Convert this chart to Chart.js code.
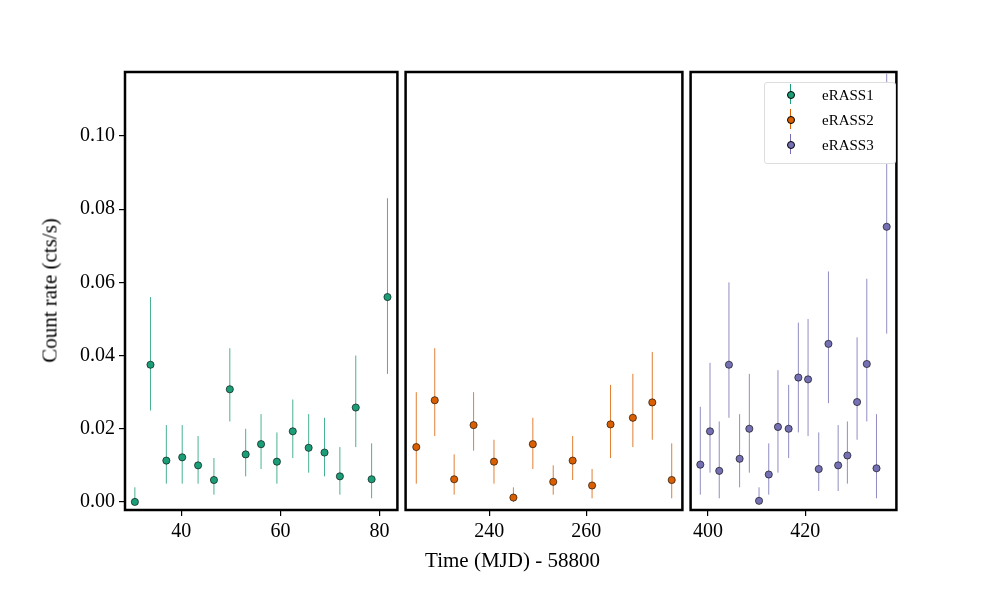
<!DOCTYPE html>
<html><head><meta charset="utf-8">
<script src="https://cdn.jsdelivr.net/npm/chart.js@4/dist/chart.umd.min.js"></script>
<style>
body{margin:0;width:1000px;height:600px;background:#fff;position:relative;overflow:hidden;font-family:"Liberation Serif",serif}
canvas{position:absolute;top:0}
#xt{position:absolute;top:548px;left:0;width:1025px;text-align:center;font-size:21px;z-index:5}
#yt{position:absolute;left:-50px;top:278px;width:200px;text-align:center;font-size:21px;transform:rotate(-90deg);z-index:5}
#lg{position:absolute;left:764px;top:82px;width:130px;height:80px;border:1px solid #ddd;border-radius:3px;background:#fff;font-size:15px;z-index:5}
#lg div{position:relative;height:25px;line-height:25px;padding-left:57px}
#lg span{position:absolute;left:22px;top:8px;width:6px;height:6px;border-radius:50%;border:0.6px solid #000}
#lg i{position:absolute;left:25px;top:1px;width:1px;height:20px}
</style></head><body>
<div id="xt">Time (MJD) - 58800</div>
<div id="yt">Count rate (cts/s)</div>
<div id="lg"></div>
<script>
const names=["eRASS1","eRASS2","eRASS3"];
const colors=["#1b9e77","#d95f02","#7570b3"];
const x1=[30.65,33.8,37.0,40.2,43.4,46.6,49.8,53.0,56.1,59.3,62.5,65.7,68.9,72.0,75.2,78.4,81.6];
const y1=[0.000,0.0375,0.0113,0.0122,0.0100,0.0060,0.0308,0.0130,0.0158,0.0110,0.0193,0.0148,0.0135,0.0070,0.0258,0.0062,0.0560];
const lo1=[0,0.025,0.005,0.005,0.005,0.002,0.022,0.007,0.009,0.005,0.012,0.008,0.007,0.002,0.015,0.001,0.035];
const hi1=[0.004,0.056,0.021,0.021,0.018,0.012,0.042,0.020,0.024,0.019,0.028,0.024,0.023,0.015,0.040,0.016,0.083];
const x2=[225.0,228.8,232.8,236.8,241.0,245.0,249.0,253.2,257.2,261.2,265.0,269.6,273.6,277.6];
const y2=[0.015,0.0278,0.0062,0.021,0.011,0.0012,0.0158,0.0055,0.0113,0.0045,0.0212,0.023,0.0272,0.006];
const lo2=[0.005,0.018,0.002,0.014,0.005,0,0.009,0.002,0.006,0.001,0.012,0.015,0.017,0.001];
const hi2=[0.030,0.042,0.013,0.030,0.017,0.004,0.023,0.010,0.018,0.009,0.032,0.035,0.041,0.016];
const x3=[398.4,400.4,402.3,404.3,406.5,408.5,410.5,412.5,414.4,416.6,418.6,420.6,422.8,424.8,426.8,428.7,430.7,432.7,434.7,436.8];
const y3=[0.0102,0.0193,0.0085,0.0375,0.0118,0.0200,0.0003,0.0075,0.0205,0.0200,0.0340,0.0335,0.0090,0.0432,0.0100,0.0127,0.0273,0.0377,0.0092,0.0752];
const lo3=[0.002,0.008,0.001,0.023,0.004,0.008,0,0.002,0.008,0.012,0.019,0.018,0.003,0.027,0.003,0.005,0.017,0.022,0.001,0.046];
const hi3=[0.026,0.038,0.022,0.060,0.024,0.035,0.004,0.016,0.036,0.032,0.049,0.050,0.019,0.063,0.021,0.022,0.045,0.061,0.024,0.117];
const xTicks=[[40,60,80],[240,260],[400,420]];
const yTicks=[0,0.02,0.04,0.06,0.08,0.10];
const xranges=[[28.66,83.6],[222.8,279.8],[396.4,438.8]];
const panels=[[x1,y1,lo1,hi1],[x2,y2,lo2,hi2],[x3,y3,lo3,hi3]];
const yMin=-0.0022,yMax=0.1175;
const lefts=[0,401,686],widths=[402,286,215];

const lg=document.getElementById('lg');
names.forEach((n,i)=>{lg.innerHTML+=`<div><i style="background:${colors[i]}"></i><span style="background:${colors[i]}"></span>${n}</div>`;});

const errPlugin={id:'err',beforeDatasetsDraw(c,a,o){
  const d=o.d,ctx=c.ctx,xs=c.scales.x,ys=c.scales.y;
  ctx.save();ctx.strokeStyle=o.color;ctx.lineWidth=0.8;
  d[0].forEach((xv,i)=>{const px=xs.getPixelForValue(xv);
    ctx.beginPath();ctx.moveTo(px,ys.getPixelForValue(d[2][i]));ctx.lineTo(px,ys.getPixelForValue(d[3][i]));ctx.stroke();});
  ctx.restore();},
 afterDraw(c){const a=c.chartArea,ctx=c.ctx;ctx.save();ctx.strokeStyle='#000';ctx.lineWidth=2.5;
  ctx.strokeRect(a.left,a.top,a.right-a.left,a.bottom-a.top);ctx.restore();}};

panels.forEach((p,k)=>{
  const cv=document.createElement('canvas');
  cv.style.left=lefts[k]+'px';cv.style.width=widths[k]+'px';cv.style.height='600px';
  cv.width=widths[k];cv.height=600;
  document.body.appendChild(cv);
  new Chart(cv,{type:'scatter',
    data:{datasets:[{data:p[0].map((x,i)=>({x,y:p[1][i]})),backgroundColor:colors[k],borderColor:'#000',borderWidth:0.6,pointRadius:3.6}]},
    options:{responsive:false,animation:false,devicePixelRatio:1,
      layout:{padding:{top:72,right:1,left:0}},
      plugins:{legend:{display:false},tooltip:{enabled:false},err:{d:p,color:colors[k]}},
      scales:{
        x:{type:'linear',min:xranges[k][0],max:xranges[k][1],
          afterFit(s){s.height=90;},
          afterBuildTicks(s){s.ticks=xTicks[k].map(v=>({value:v}));},
          ticks:{color:'#000',font:{family:'Liberation Serif',size:20},maxRotation:0,autoSkip:false,padding:4},
          grid:{drawOnChartArea:false,tickLength:6,color:'#000',lineWidth:1.2},border:{display:false}},
        y:{min:yMin,max:yMax,display:k==0,
          afterFit(s){s.width=k==0?125:0;},
          afterBuildTicks(s){s.ticks=yTicks.map(v=>({value:v}));},
          ticks:{color:'#000',font:{family:'Liberation Serif',size:20},callback:v=>v.toFixed(2),padding:4,autoSkip:false},
          grid:{drawOnChartArea:false,tickLength:6,color:'#000',lineWidth:1.2},border:{display:false}}
      }},
    plugins:[errPlugin]});
});
</script></body></html>
